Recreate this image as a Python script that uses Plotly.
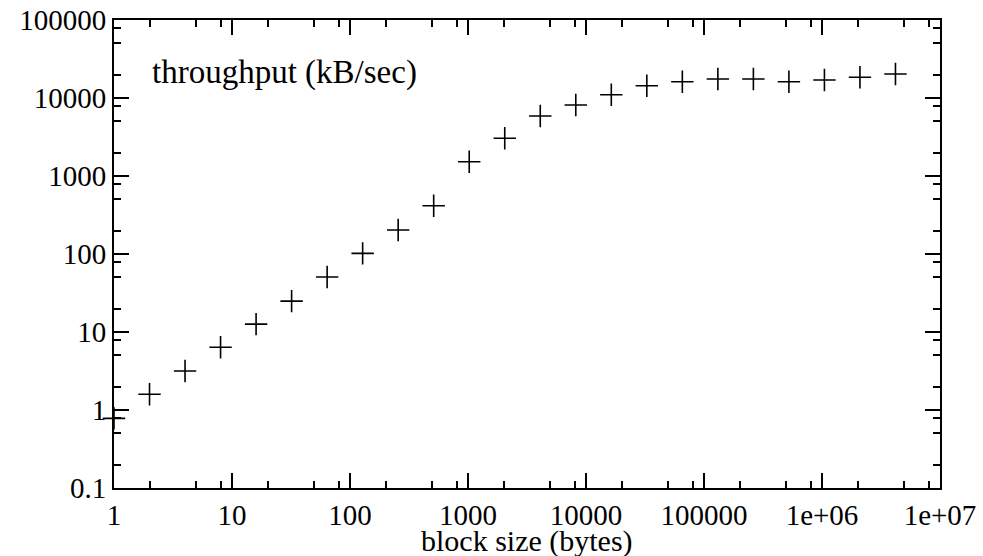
import plotly.graph_objects as go

block_size = [2 ** k for k in range(23)]
throughput = [0.78, 1.59, 3.16, 6.37, 12.6, 24.9, 50.7, 102, 203, 416, 1525, 3043,
              5879, 8128, 11020, 14380, 16180, 17530, 17530, 16180, 17010, 18420, 20300]

x_tickvals = [1, 10, 100, 1000, 10000, 100000, 1e6, 1e7]
x_ticktext = ["1", "10", "100", "1000", "10000", "100000", "1e+06", "1e+07"]
y_tickvals = [0.1, 1, 10, 100, 1000, 10000, 100000]
y_ticktext = ["0.1", "1", "10", "100", "1000", "10000", "100000"]

x_minor = [m * 10 ** d for d in range(0, 7) for m in (2, 5, 8)]
y_minor = [m * 10 ** d for d in range(-1, 5) for m in (2, 5, 8)]

FONT = "Liberation Serif"

fig = go.Figure()
fig.add_trace(go.Scatter(
    x=block_size, y=throughput, mode="markers",
    marker=dict(symbol="cross-thin", size=16, line=dict(color="black", width=1.6)),
    cliponaxis=False, showlegend=False,
))

axis_common = dict(
    type="log", showgrid=False, zeroline=False, automargin=False,
    showline=True, linecolor="black", linewidth=2, mirror="ticks",
    ticks="inside", ticklen=15, tickwidth=2, tickcolor="black",
    tickfont=dict(family=FONT, size=29, color="black"),
    tickmode="array",
)

fig.update_xaxes(
    **axis_common, range=[0, 7], tickvals=x_tickvals, ticktext=x_ticktext,
    minor=dict(tickvals=x_minor, ticks="inside", ticklen=7, tickwidth=2, tickcolor="black"),
)
fig.update_yaxes(
    **axis_common, range=[-1, 5], tickvals=y_tickvals, ticktext=y_ticktext,
    minor=dict(tickvals=y_minor, ticks="inside", ticklen=7, tickwidth=2, tickcolor="black"),
)

fig.add_annotation(text="throughput (kB/sec)", xref="paper", yref="paper",
                   x=0.043, y=0.888, xanchor="left", yanchor="middle", showarrow=False,
                   font=dict(family=FONT, size=33, color="black"))
fig.add_annotation(text="block size (bytes)", xref="paper", yref="paper",
                   x=0.5, y=-0.114, xanchor="center", yanchor="middle", showarrow=False,
                   font=dict(family=FONT, size=30, color="black"))

fig.update_layout(
    width=983, height=556,
    margin=dict(l=114, r=43, t=20, b=68),
    plot_bgcolor="white", paper_bgcolor="white",
    font=dict(family=FONT, color="black"),
)

fig.write_html("out.html", config={"displayModeBar": False},
               post_script="document.body.style.margin='0';document.body.style.overflow='hidden';")
